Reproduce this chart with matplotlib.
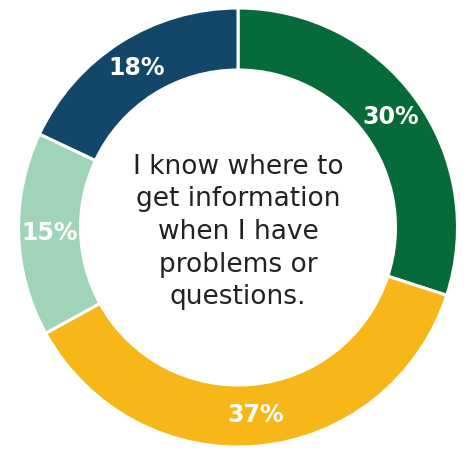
import matplotlib.pyplot as plt

shares = [30, 37, 15, 18]
colors = ['#066b38', '#f7b718', '#a0d4b8', '#13476a']
caption = 'I know where to\nget information\nwhen I have\nproblems or\nquestions.'

fig = plt.figure(figsize=(4.69, 4.51), dpi=100)
ax = fig.add_axes([0, 0, 1, 1])

outer = 219.5
ring = 62
wedges, _, pcts = ax.pie(shares, colors=colors, startangle=90, counterclock=False,
                         radius=outer, center=(238, 223.5), frame=True,
                         autopct='%.0f%%', pctdistance=(outer - ring / 2) / outer,
                         wedgeprops=dict(width=ring, edgecolor='white', linewidth=2.2))
ax.set_xlim(0, 469)
ax.set_ylim(0, 451)
ax.set_aspect('equal')
ax.axis('off')

for t in pcts:
    t.set_color('white')
    t.set_fontsize(17)
    t.set_fontweight('bold')

ax.text(238, 219, caption, ha='center', va='center', fontsize=19,
        color='#222222', linespacing=1.33)

fig.savefig('out.png', dpi=100)
